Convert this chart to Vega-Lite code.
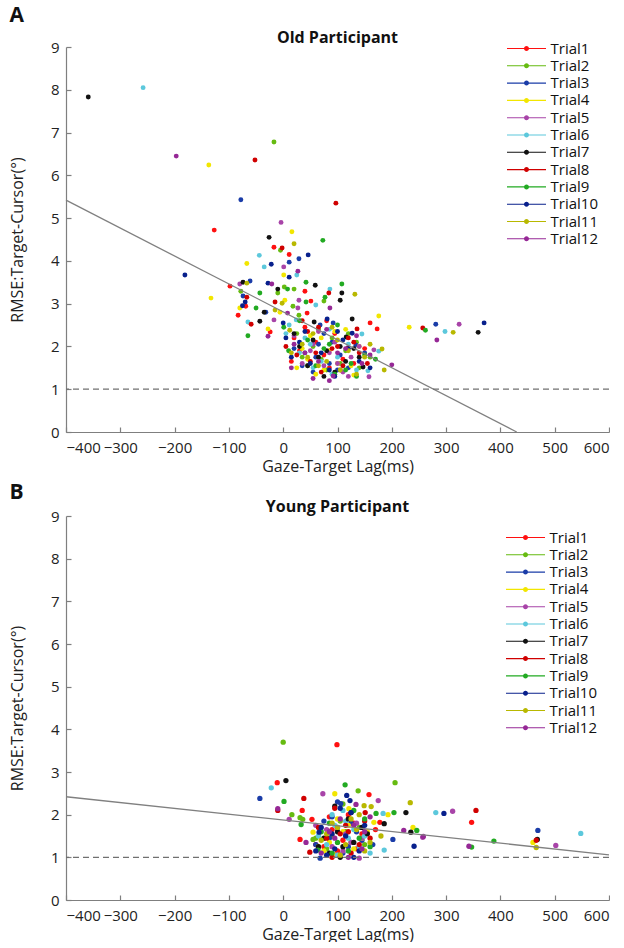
{
"$schema":"https://vega.github.io/schema/vega-lite/v6.json",
"background":"white",
"padding":{"left":9,"top":5,"right":0,"bottom":0},
"config":{
 "view":{"stroke":null},
 "font":"Open Sans",
 "axis":{"grid":false,"domainColor":"#7f7f7f","tickColor":"#7f7f7f","domainWidth":1.2,"tickWidth":1.2,"tickSize":-5,"labelFontSize":15,"labelColor":"#222222","titleFontSize":16,"titleFontWeight":"normal","titleColor":"#222222","labelFont":"Open Sans","titleFont":"Open Sans"},
 "axisX":{"labelPadding":13,"titlePadding":3},
 "axisY":{"labelPadding":12,"titlePadding":25},
 "title":{"font":"Open Sans","fontSize":16,"fontWeight":"bold","color":"#111111","offset":-6},
 "legend":{"orient":"none","symbolType":"M-7.8,-0.22H7.8V0.22H-7.8Z M1,0A1,1 0 1,1 -1,0A1,1 0 1,1 1,0Z","symbolSize":25,"symbolStrokeWidth":0,"labelFontSize":15,"labelFont":"Open Sans","labelColor":"#111111","labelOffset":16.5,"rowPadding":1.3,"padding":0}
},
"datasets":{
 "lineA":[{"x":-400,"y":5.42,"x2":430,"y2":0}],
 "lineB":[{"x":-400,"y":2.42,"x2":600,"y2":1.06}],
 "ref":[{"y":1}],
 "A":[
{"t":"Trial1","x":-127,"y":4.72},{"t":"Trial1","x":-17,"y":4.32},{"t":"Trial1","x":11,"y":4.15},{"t":"Trial1","x":-98,"y":3.41},{"t":"Trial1","x":-69,"y":2.94},{"t":"Trial1","x":40,"y":3.29},{"t":"Trial1","x":51,"y":3.06},{"t":"Trial1","x":44,"y":2.78},{"t":"Trial1","x":-83,"y":2.73},{"t":"Trial1","x":-24,"y":2.34},{"t":"Trial1","x":160,"y":2.55},{"t":"Trial1","x":173,"y":2.41},{"t":"Trial1","x":60,"y":2.1},{"t":"Trial1","x":75,"y":1.8},{"t":"Trial1","x":95,"y":2.3},{"t":"Trial1","x":110,"y":1.7},{"t":"Trial1","x":30,"y":1.9},{"t":"Trial1","x":130,"y":1.6},{"t":"Trial1","x":85,"y":1.5},{"t":"Trial1","x":20,"y":2.2},{"t":"Trial1","x":105,"y":1.45},{"t":"Trial1","x":40,"y":2.45},{"t":"Trial1","x":150,"y":1.95},{"t":"Trial1","x":15,"y":1.65},{"t":"Trial1","x":80,"y":2.6},
{"t":"Trial2","x":-17,"y":6.78},{"t":"Trial2","x":2,"y":3.39},{"t":"Trial2","x":20,"y":3.34},{"t":"Trial2","x":-78,"y":3.29},{"t":"Trial2","x":-10,"y":3.25},{"t":"Trial2","x":18,"y":2.94},{"t":"Trial2","x":75,"y":3.06},{"t":"Trial2","x":29,"y":2.73},{"t":"Trial2","x":-5,"y":4.25},{"t":"Trial2","x":55,"y":2.0},{"t":"Trial2","x":70,"y":1.7},{"t":"Trial2","x":90,"y":2.2},{"t":"Trial2","x":115,"y":1.9},{"t":"Trial2","x":35,"y":1.75},{"t":"Trial2","x":135,"y":2.1},{"t":"Trial2","x":80,"y":1.45},{"t":"Trial2","x":25,"y":2.3},{"t":"Trial2","x":160,"y":1.75},{"t":"Trial2","x":105,"y":1.6},{"t":"Trial2","x":45,"y":1.55},{"t":"Trial2","x":140,"y":1.5},{"t":"Trial2","x":65,"y":2.4},{"t":"Trial2","x":120,"y":2.3},
{"t":"Trial3","x":-78,"y":5.43},{"t":"Trial3","x":29,"y":4.05},{"t":"Trial3","x":11,"y":3.97},{"t":"Trial3","x":-61,"y":3.53},{"t":"Trial3","x":-74,"y":3.18},{"t":"Trial3","x":-32,"y":2.8},{"t":"Trial3","x":68,"y":2.5},{"t":"Trial3","x":92,"y":2.55},{"t":"Trial3","x":134,"y":2.03},{"t":"Trial3","x":281,"y":2.52},{"t":"Trial3","x":40,"y":1.85},{"t":"Trial3","x":65,"y":2.05},{"t":"Trial3","x":85,"y":1.6},{"t":"Trial3","x":105,"y":1.8},{"t":"Trial3","x":20,"y":1.95},{"t":"Trial3","x":55,"y":1.4},{"t":"Trial3","x":120,"y":1.5},{"t":"Trial3","x":75,"y":2.3},{"t":"Trial3","x":90,"y":2.1},{"t":"Trial3","x":35,"y":1.55},{"t":"Trial3","x":150,"y":1.85},{"t":"Trial3","x":100,"y":1.45},{"t":"Trial3","x":60,"y":1.75},
{"t":"Trial4","x":-137,"y":6.24},{"t":"Trial4","x":16,"y":4.68},{"t":"Trial4","x":-133,"y":3.13},{"t":"Trial4","x":-67,"y":3.94},{"t":"Trial4","x":1,"y":3.67},{"t":"Trial4","x":3,"y":3.08},{"t":"Trial4","x":-6,"y":2.8},{"t":"Trial4","x":-28,"y":2.41},{"t":"Trial4","x":176,"y":2.71},{"t":"Trial4","x":232,"y":2.45},{"t":"Trial4","x":130,"y":1.33},{"t":"Trial4","x":45,"y":1.7},{"t":"Trial4","x":70,"y":2.2},{"t":"Trial4","x":100,"y":1.6},{"t":"Trial4","x":25,"y":1.5},{"t":"Trial4","x":85,"y":1.9},{"t":"Trial4","x":115,"y":2.4},{"t":"Trial4","x":60,"y":1.35},{"t":"Trial4","x":140,"y":2.0},{"t":"Trial4","x":-80,"y":2.9},{"t":"Trial4","x":35,"y":1.95},{"t":"Trial4","x":95,"y":2.35},{"t":"Trial4","x":125,"y":1.55},{"t":"Trial4","x":50,"y":2.25},{"t":"Trial4","x":75,"y":1.45},
{"t":"Trial5","x":-4,"y":4.9},{"t":"Trial5","x":1,"y":3.86},{"t":"Trial5","x":-80,"y":3.46},{"t":"Trial5","x":29,"y":3.08},{"t":"Trial5","x":27,"y":2.9},{"t":"Trial5","x":-17,"y":2.62},{"t":"Trial5","x":167,"y":1.92},{"t":"Trial5","x":158,"y":1.29},{"t":"Trial5","x":324,"y":2.52},{"t":"Trial5","x":50,"y":1.9},{"t":"Trial5","x":75,"y":1.55},{"t":"Trial5","x":95,"y":2.1},{"t":"Trial5","x":110,"y":1.4},{"t":"Trial5","x":35,"y":1.6},{"t":"Trial5","x":65,"y":2.35},{"t":"Trial5","x":125,"y":1.75},{"t":"Trial5","x":85,"y":1.85},{"t":"Trial5","x":140,"y":2.0},{"t":"Trial5","x":20,"y":2.25},{"t":"Trial5","x":100,"y":1.6},{"t":"Trial5","x":55,"y":2.05},{"t":"Trial5","x":120,"y":1.3},
{"t":"Trial6","x":-258,"y":8.05},{"t":"Trial6","x":-44,"y":4.13},{"t":"Trial6","x":-35,"y":3.86},{"t":"Trial6","x":25,"y":3.67},{"t":"Trial6","x":86,"y":3.34},{"t":"Trial6","x":60,"y":2.97},{"t":"Trial6","x":-65,"y":2.57},{"t":"Trial6","x":11,"y":2.5},{"t":"Trial6","x":24,"y":2.62},{"t":"Trial6","x":145,"y":2.29},{"t":"Trial6","x":176,"y":1.89},{"t":"Trial6","x":156,"y":1.43},{"t":"Trial6","x":298,"y":2.35},{"t":"Trial6","x":40,"y":2.2},{"t":"Trial6","x":70,"y":1.65},{"t":"Trial6","x":100,"y":1.75},{"t":"Trial6","x":120,"y":2.05},{"t":"Trial6","x":55,"y":1.5},{"t":"Trial6","x":85,"y":2.4},{"t":"Trial6","x":30,"y":1.85},{"t":"Trial6","x":135,"y":1.45},{"t":"Trial6","x":5,"y":2.3},{"t":"Trial6","x":110,"y":1.55},{"t":"Trial6","x":90,"y":1.35},{"t":"Trial6","x":50,"y":2.05},
{"t":"Trial7","x":-359,"y":7.83},{"t":"Trial7","x":-26,"y":4.55},{"t":"Trial7","x":-74,"y":3.5},{"t":"Trial7","x":-10,"y":3.34},{"t":"Trial7","x":59,"y":3.43},{"t":"Trial7","x":108,"y":3.25},{"t":"Trial7","x":105,"y":3.08},{"t":"Trial7","x":-35,"y":2.8},{"t":"Trial7","x":-43,"y":2.59},{"t":"Trial7","x":57,"y":2.57},{"t":"Trial7","x":127,"y":2.64},{"t":"Trial7","x":116,"y":2.22},{"t":"Trial7","x":147,"y":1.52},{"t":"Trial7","x":359,"y":2.33},{"t":"Trial7","x":45,"y":1.55},{"t":"Trial7","x":80,"y":1.9},{"t":"Trial7","x":95,"y":1.4},{"t":"Trial7","x":30,"y":2.0},{"t":"Trial7","x":65,"y":1.75},{"t":"Trial7","x":115,"y":1.65},{"t":"Trial7","x":20,"y":2.3},{"t":"Trial7","x":130,"y":1.95},{"t":"Trial7","x":75,"y":1.3},{"t":"Trial7","x":55,"y":2.15},{"t":"Trial7","x":105,"y":2.0},{"t":"Trial7","x":140,"y":1.75},
{"t":"Trial8","x":-52,"y":6.36},{"t":"Trial8","x":97,"y":5.35},{"t":"Trial8","x":-2,"y":4.3},{"t":"Trial8","x":-67,"y":3.15},{"t":"Trial8","x":84,"y":3.25},{"t":"Trial8","x":-15,"y":3.04},{"t":"Trial8","x":-59,"y":2.52},{"t":"Trial8","x":136,"y":2.41},{"t":"Trial8","x":119,"y":1.96},{"t":"Trial8","x":257,"y":2.43},{"t":"Trial8","x":50,"y":1.65},{"t":"Trial8","x":140,"y":1.85},{"t":"Trial8","x":100,"y":2.0},{"t":"Trial8","x":65,"y":2.45},{"t":"Trial8","x":120,"y":2.2},{"t":"Trial8","x":5,"y":2.0},{"t":"Trial8","x":45,"y":2.35},{"t":"Trial8","x":90,"y":1.95},{"t":"Trial8","x":70,"y":1.4},{"t":"Trial8","x":155,"y":1.6},{"t":"Trial8","x":25,"y":1.8},{"t":"Trial8","x":110,"y":1.55},{"t":"Trial8","x":35,"y":2.6},{"t":"Trial8","x":130,"y":2.1},{"t":"Trial8","x":60,"y":1.85},
{"t":"Trial9","x":73,"y":4.48},{"t":"Trial9","x":8,"y":3.34},{"t":"Trial9","x":42,"y":3.5},{"t":"Trial9","x":108,"y":3.46},{"t":"Trial9","x":-43,"y":3.25},{"t":"Trial9","x":77,"y":3.15},{"t":"Trial9","x":42,"y":3.04},{"t":"Trial9","x":-50,"y":2.9},{"t":"Trial9","x":1,"y":2.45},{"t":"Trial9","x":262,"y":2.38},{"t":"Trial9","x":60,"y":1.55},{"t":"Trial9","x":150,"y":1.8},{"t":"Trial9","x":100,"y":2.5},{"t":"Trial9","x":10,"y":1.9},{"t":"Trial9","x":125,"y":1.6},{"t":"Trial9","x":45,"y":2.15},{"t":"Trial9","x":170,"y":1.7},{"t":"Trial9","x":95,"y":1.35},{"t":"Trial9","x":-65,"y":2.25},{"t":"Trial9","x":75,"y":1.95},{"t":"Trial9","x":30,"y":2.6},{"t":"Trial9","x":115,"y":1.45},{"t":"Trial9","x":85,"y":2.05},{"t":"Trial9","x":135,"y":1.3},
{"t":"Trial10","x":-181,"y":3.67},{"t":"Trial10","x":46,"y":4.14},{"t":"Trial10","x":-22,"y":3.92},{"t":"Trial10","x":11,"y":3.62},{"t":"Trial10","x":-28,"y":3.48},{"t":"Trial10","x":-70,"y":3.04},{"t":"Trial10","x":0,"y":2.55},{"t":"Trial10","x":81,"y":2.64},{"t":"Trial10","x":127,"y":2.31},{"t":"Trial10","x":370,"y":2.55},{"t":"Trial10","x":30,"y":2.1},{"t":"Trial10","x":140,"y":1.65},{"t":"Trial10","x":95,"y":1.3},{"t":"Trial10","x":15,"y":1.75},{"t":"Trial10","x":110,"y":2.15},{"t":"Trial10","x":50,"y":1.6},{"t":"Trial10","x":160,"y":1.5},{"t":"Trial10","x":5,"y":2.2},{"t":"Trial10","x":-75,"y":2.95},{"t":"Trial10","x":70,"y":1.85},{"t":"Trial10","x":120,"y":1.95},{"t":"Trial10","x":40,"y":2.35},{"t":"Trial10","x":85,"y":1.45},{"t":"Trial10","x":100,"y":2.35},
{"t":"Trial11","x":20,"y":4.4},{"t":"Trial11","x":-67,"y":3.48},{"t":"Trial11","x":132,"y":3.22},{"t":"Trial11","x":-2,"y":3.01},{"t":"Trial11","x":-15,"y":2.85},{"t":"Trial11","x":12,"y":2.38},{"t":"Trial11","x":182,"y":1.94},{"t":"Trial11","x":186,"y":1.45},{"t":"Trial11","x":313,"y":2.33},{"t":"Trial11","x":35,"y":2.05},{"t":"Trial11","x":80,"y":1.65},{"t":"Trial11","x":55,"y":2.3},{"t":"Trial11","x":105,"y":1.45},{"t":"Trial11","x":120,"y":1.9},{"t":"Trial11","x":150,"y":1.75},{"t":"Trial11","x":15,"y":1.85},{"t":"Trial11","x":90,"y":2.45},{"t":"Trial11","x":65,"y":1.55},{"t":"Trial11","x":100,"y":2.15},{"t":"Trial11","x":135,"y":1.35},{"t":"Trial11","x":45,"y":1.75},{"t":"Trial11","x":160,"y":2.05},
{"t":"Trial12","x":-197,"y":6.45},{"t":"Trial12","x":27,"y":3.76},{"t":"Trial12","x":-21,"y":3.46},{"t":"Trial12","x":86,"y":2.9},{"t":"Trial12","x":8,"y":2.78},{"t":"Trial12","x":-28,"y":2.24},{"t":"Trial12","x":200,"y":1.57},{"t":"Trial12","x":92,"y":1.31},{"t":"Trial12","x":283,"y":2.15},{"t":"Trial12","x":85,"y":1.2},{"t":"Trial12","x":20,"y":2.05},{"t":"Trial12","x":145,"y":1.6},{"t":"Trial12","x":55,"y":1.25},{"t":"Trial12","x":100,"y":1.85},{"t":"Trial12","x":15,"y":1.5},{"t":"Trial12","x":135,"y":2.25},{"t":"Trial12","x":65,"y":1.65},{"t":"Trial12","x":115,"y":1.95},{"t":"Trial12","x":40,"y":1.85},{"t":"Trial12","x":80,"y":2.4},{"t":"Trial12","x":160,"y":1.8}
 ],
 "B":[
{"t":"Trial1","x":-11,"y":2.75},{"t":"Trial1","x":99,"y":3.64},{"t":"Trial1","x":35,"y":2.1},{"t":"Trial1","x":53,"y":1.89},{"t":"Trial1","x":178,"y":1.82},{"t":"Trial1","x":31,"y":1.42},{"t":"Trial1","x":347,"y":1.82},{"t":"Trial1","x":158,"y":2.47},{"t":"Trial1","x":90,"y":1.65},{"t":"Trial1","x":110,"y":1.4},{"t":"Trial1","x":130,"y":1.8},{"t":"Trial1","x":75,"y":1.25},{"t":"Trial1","x":120,"y":2.0},{"t":"Trial1","x":145,"y":1.55},{"t":"Trial1","x":100,"y":1.15},{"t":"Trial1","x":85,"y":1.95},{"t":"Trial1","x":60,"y":1.3},{"t":"Trial1","x":135,"y":1.2},{"t":"Trial1","x":170,"y":1.65},
{"t":"Trial2","x":0,"y":3.7},{"t":"Trial2","x":206,"y":2.75},{"t":"Trial2","x":16,"y":2.0},{"t":"Trial2","x":31,"y":1.93},{"t":"Trial2","x":36,"y":1.89},{"t":"Trial2","x":138,"y":2.56},{"t":"Trial2","x":55,"y":1.42},{"t":"Trial2","x":90,"y":1.5},{"t":"Trial2","x":105,"y":1.85},{"t":"Trial2","x":125,"y":1.35},{"t":"Trial2","x":80,"y":1.2},{"t":"Trial2","x":140,"y":1.7},{"t":"Trial2","x":115,"y":1.6},{"t":"Trial2","x":95,"y":1.05},{"t":"Trial2","x":60,"y":1.45},{"t":"Trial2","x":150,"y":1.3},{"t":"Trial2","x":110,"y":2.25},
{"t":"Trial3","x":-43,"y":2.38},{"t":"Trial3","x":106,"y":2.26},{"t":"Trial3","x":202,"y":1.42},{"t":"Trial3","x":68,"y":0.98},{"t":"Trial3","x":469,"y":1.63},{"t":"Trial3","x":85,"y":1.45},{"t":"Trial3","x":100,"y":1.7},{"t":"Trial3","x":120,"y":1.25},{"t":"Trial3","x":75,"y":1.85},{"t":"Trial3","x":135,"y":1.6},{"t":"Trial3","x":110,"y":1.1},{"t":"Trial3","x":90,"y":1.95},{"t":"Trial3","x":145,"y":1.4},{"t":"Trial3","x":60,"y":1.3},{"t":"Trial3","x":125,"y":1.8},{"t":"Trial3","x":100,"y":2.3},{"t":"Trial3","x":165,"y":1.3},
{"t":"Trial4","x":95,"y":2.49},{"t":"Trial4","x":121,"y":2.14},{"t":"Trial4","x":193,"y":2.0},{"t":"Trial4","x":167,"y":1.82},{"t":"Trial4","x":239,"y":1.7},{"t":"Trial4","x":55,"y":1.59},{"t":"Trial4","x":460,"y":1.35},{"t":"Trial4","x":85,"y":1.35},{"t":"Trial4","x":110,"y":1.6},{"t":"Trial4","x":130,"y":1.2},{"t":"Trial4","x":100,"y":1.9},{"t":"Trial4","x":145,"y":1.45},{"t":"Trial4","x":75,"y":1.15},{"t":"Trial4","x":120,"y":1.75},{"t":"Trial4","x":95,"y":1.05},{"t":"Trial4","x":155,"y":1.6},{"t":"Trial4","x":65,"y":1.25},
{"t":"Trial5","x":73,"y":2.49},{"t":"Trial5","x":11,"y":1.89},{"t":"Trial5","x":175,"y":2.33},{"t":"Trial5","x":257,"y":1.47},{"t":"Trial5","x":140,"y":0.98},{"t":"Trial5","x":312,"y":2.08},{"t":"Trial5","x":502,"y":1.28},{"t":"Trial5","x":90,"y":1.25},{"t":"Trial5","x":115,"y":1.55},{"t":"Trial5","x":100,"y":1.05},{"t":"Trial5","x":135,"y":1.8},{"t":"Trial5","x":80,"y":1.65},{"t":"Trial5","x":125,"y":1.35},{"t":"Trial5","x":60,"y":1.75},{"t":"Trial5","x":145,"y":1.45},{"t":"Trial5","x":110,"y":1.15},
{"t":"Trial6","x":-22,"y":2.63},{"t":"Trial6","x":184,"y":2.03},{"t":"Trial6","x":186,"y":1.17},{"t":"Trial6","x":281,"y":2.05},{"t":"Trial6","x":548,"y":1.56},{"t":"Trial6","x":95,"y":1.75},{"t":"Trial6","x":120,"y":1.45},{"t":"Trial6","x":80,"y":1.3},{"t":"Trial6","x":110,"y":2.1},{"t":"Trial6","x":140,"y":1.25},{"t":"Trial6","x":130,"y":1.65},{"t":"Trial6","x":100,"y":1.05},{"t":"Trial6","x":150,"y":1.5},{"t":"Trial6","x":65,"y":1.5},{"t":"Trial6","x":115,"y":1.85},{"t":"Trial6","x":90,"y":2.0},{"t":"Trial6","x":160,"y":1.1},
{"t":"Trial7","x":5,"y":2.8},{"t":"Trial7","x":226,"y":2.05},{"t":"Trial7","x":186,"y":1.79},{"t":"Trial7","x":235,"y":1.59},{"t":"Trial7","x":468,"y":1.42},{"t":"Trial7","x":100,"y":1.6},{"t":"Trial7","x":120,"y":1.9},{"t":"Trial7","x":85,"y":1.1},{"t":"Trial7","x":130,"y":1.35},{"t":"Trial7","x":110,"y":1.25},{"t":"Trial7","x":145,"y":1.7},{"t":"Trial7","x":75,"y":1.45},{"t":"Trial7","x":95,"y":2.2},{"t":"Trial7","x":155,"y":1.55},{"t":"Trial7","x":125,"y":2.05},{"t":"Trial7","x":65,"y":1.25},{"t":"Trial7","x":105,"y":1.0},
{"t":"Trial8","x":38,"y":2.38},{"t":"Trial8","x":151,"y":2.05},{"t":"Trial8","x":49,"y":1.12},{"t":"Trial8","x":355,"y":2.1},{"t":"Trial8","x":466,"y":1.4},{"t":"Trial8","x":-10,"y":2.1},{"t":"Trial8","x":140,"y":1.3},{"t":"Trial8","x":65,"y":1.7},{"t":"Trial8","x":160,"y":1.45},{"t":"Trial8","x":115,"y":1.75},{"t":"Trial8","x":95,"y":2.15},{"t":"Trial8","x":125,"y":1.1},{"t":"Trial8","x":105,"y":1.55},{"t":"Trial8","x":80,"y":1.45},{"t":"Trial8","x":150,"y":1.85},{"t":"Trial8","x":90,"y":1.0},{"t":"Trial8","x":120,"y":1.6},
{"t":"Trial9","x":1.5,"y":2.31},{"t":"Trial9","x":114,"y":2.7},{"t":"Trial9","x":33,"y":1.77},{"t":"Trial9","x":171,"y":2.03},{"t":"Trial9","x":204,"y":2.05},{"t":"Trial9","x":246,"y":1.63},{"t":"Trial9","x":64,"y":1.17},{"t":"Trial9","x":388,"y":1.38},{"t":"Trial9","x":347,"y":1.24},{"t":"Trial9","x":150,"y":1.9},{"t":"Trial9","x":70,"y":1.6},{"t":"Trial9","x":130,"y":2.1},{"t":"Trial9","x":160,"y":1.25},{"t":"Trial9","x":100,"y":1.35},{"t":"Trial9","x":120,"y":1.15},{"t":"Trial9","x":85,"y":1.8},{"t":"Trial9","x":90,"y":1.1},{"t":"Trial9","x":140,"y":1.45},
{"t":"Trial10","x":117,"y":2.45},{"t":"Trial10","x":123,"y":2.33},{"t":"Trial10","x":241,"y":1.26},{"t":"Trial10","x":66,"y":1.59},{"t":"Trial10","x":296,"y":2.03},{"t":"Trial10","x":125,"y":2.05},{"t":"Trial10","x":95,"y":1.2},{"t":"Trial10","x":150,"y":1.75},{"t":"Trial10","x":80,"y":1.05},{"t":"Trial10","x":115,"y":1.5},{"t":"Trial10","x":105,"y":2.15},{"t":"Trial10","x":130,"y":1.0},{"t":"Trial10","x":70,"y":1.7},{"t":"Trial10","x":140,"y":1.15},{"t":"Trial10","x":90,"y":1.55},{"t":"Trial10","x":60,"y":1.15},
{"t":"Trial11","x":149,"y":2.21},{"t":"Trial11","x":162,"y":2.19},{"t":"Trial11","x":234,"y":2.28},{"t":"Trial11","x":466,"y":1.23},{"t":"Trial11","x":180,"y":1.5},{"t":"Trial11","x":90,"y":1.8},{"t":"Trial11","x":115,"y":1.3},{"t":"Trial11","x":135,"y":1.65},{"t":"Trial11","x":105,"y":1.05},{"t":"Trial11","x":150,"y":1.15},{"t":"Trial11","x":80,"y":1.55},{"t":"Trial11","x":125,"y":1.9},{"t":"Trial11","x":160,"y":1.35},{"t":"Trial11","x":70,"y":1.4},{"t":"Trial11","x":100,"y":1.7},{"t":"Trial11","x":140,"y":2.0},
{"t":"Trial12","x":-10,"y":2.14},{"t":"Trial12","x":134,"y":2.24},{"t":"Trial12","x":222,"y":1.63},{"t":"Trial12","x":42,"y":1.35},{"t":"Trial12","x":258,"y":1.49},{"t":"Trial12","x":342,"y":1.26},{"t":"Trial12","x":150,"y":1.6},{"t":"Trial12","x":105,"y":1.9},{"t":"Trial12","x":70,"y":1.1},{"t":"Trial12","x":145,"y":1.2},{"t":"Trial12","x":95,"y":1.45},{"t":"Trial12","x":160,"y":1.95},{"t":"Trial12","x":85,"y":1.6},{"t":"Trial12","x":120,"y":1.0},{"t":"Trial12","x":130,"y":1.75}
 ]
},
"spacing":8,
"resolve":{"scale":{"color":"independent"}},
"vconcat":[
 {"title":{"text":"A","anchor":"start","frame":"bounds","fontSize":21,"offset":4},
  "resolve":{"scale":{"color":"independent"}},
  "vconcat":[{
   "width":543,"height":385,
   "title":{"text":"Old Participant"},
   "layer":[
    {"data":{"name":"A"},"mark":{"type":"circle","size":24,"opacity":1},
     "encoding":{
      "x":{"field":"x","type":"quantitative","scale":{"domain":[-400,600],"nice":false},"axis":{"values":[-400,-300,-200,-100,0,100,200,300,400,500,600],"title":"Gaze-Target Lag(ms)"}},
      "y":{"field":"y","type":"quantitative","scale":{"domain":[0,9],"nice":false},"axis":{"values":[0,1,2,3,4,5,6,7,8,9],"title":"RMSE:Target-Cursor(°)"}},
      "color":{"field":"t","type":"nominal","scale":{"domain":["Trial1","Trial2","Trial3","Trial4","Trial5","Trial6","Trial7","Trial8","Trial9","Trial10","Trial11","Trial12"],"range":["#ff1010","#66bb11","#1a3ca8","#f2e600","#a844a8","#5cc8dc","#111111","#d00000","#22aa22","#08208c","#b8b800","#962896"]},"legend":{"title":null,"legendX":453,"legendY":-6}}
     }},
    {"data":{"name":"lineA"},"mark":{"type":"rule","color":"#808080","strokeWidth":1.3},
     "encoding":{"x":{"field":"x","type":"quantitative"},"y":{"field":"y","type":"quantitative"},"x2":{"field":"x2"},"y2":{"field":"y2"}}},
    {"data":{"name":"ref"},"mark":{"type":"rule","color":"#707070","strokeWidth":1.3,"strokeDash":[6,4]},
     "encoding":{"y":{"field":"y","type":"quantitative"}}}
   ]
  }]
 },
 {"title":{"text":"B","anchor":"start","frame":"bounds","fontSize":21,"offset":-4},
  "resolve":{"scale":{"color":"independent"}},
  "vconcat":[{
   "width":543,"height":384,
   "title":{"text":"Young Participant"},
   "layer":[
    {"data":{"name":"B"},"mark":{"type":"circle","size":28,"opacity":1},
     "encoding":{
      "x":{"field":"x","type":"quantitative","scale":{"domain":[-400,600],"nice":false},"axis":{"values":[-400,-300,-200,-100,0,100,200,300,400,500,600],"title":"Gaze-Target Lag(ms)"}},
      "y":{"field":"y","type":"quantitative","scale":{"domain":[0,9],"nice":false},"axis":{"values":[0,1,2,3,4,5,6,7,8,9],"title":"RMSE:Target-Cursor(°)"}},
      "color":{"field":"t","type":"nominal","scale":{"domain":["Trial1","Trial2","Trial3","Trial4","Trial5","Trial6","Trial7","Trial8","Trial9","Trial10","Trial11","Trial12"],"range":["#ff1010","#66bb11","#1a3ca8","#f2e600","#a844a8","#5cc8dc","#111111","#d00000","#22aa22","#08208c","#b8b800","#962896"]},"legend":{"title":null,"legendX":452,"legendY":14}}
     }},
    {"data":{"name":"lineB"},"mark":{"type":"rule","color":"#808080","strokeWidth":1.3},
     "encoding":{"x":{"field":"x","type":"quantitative"},"y":{"field":"y","type":"quantitative"},"x2":{"field":"x2"},"y2":{"field":"y2"}}},
    {"data":{"name":"ref"},"mark":{"type":"rule","color":"#707070","strokeWidth":1.3,"strokeDash":[6,4]},
     "encoding":{"y":{"field":"y","type":"quantitative"}}}
   ]
  }]
 }
]
}
